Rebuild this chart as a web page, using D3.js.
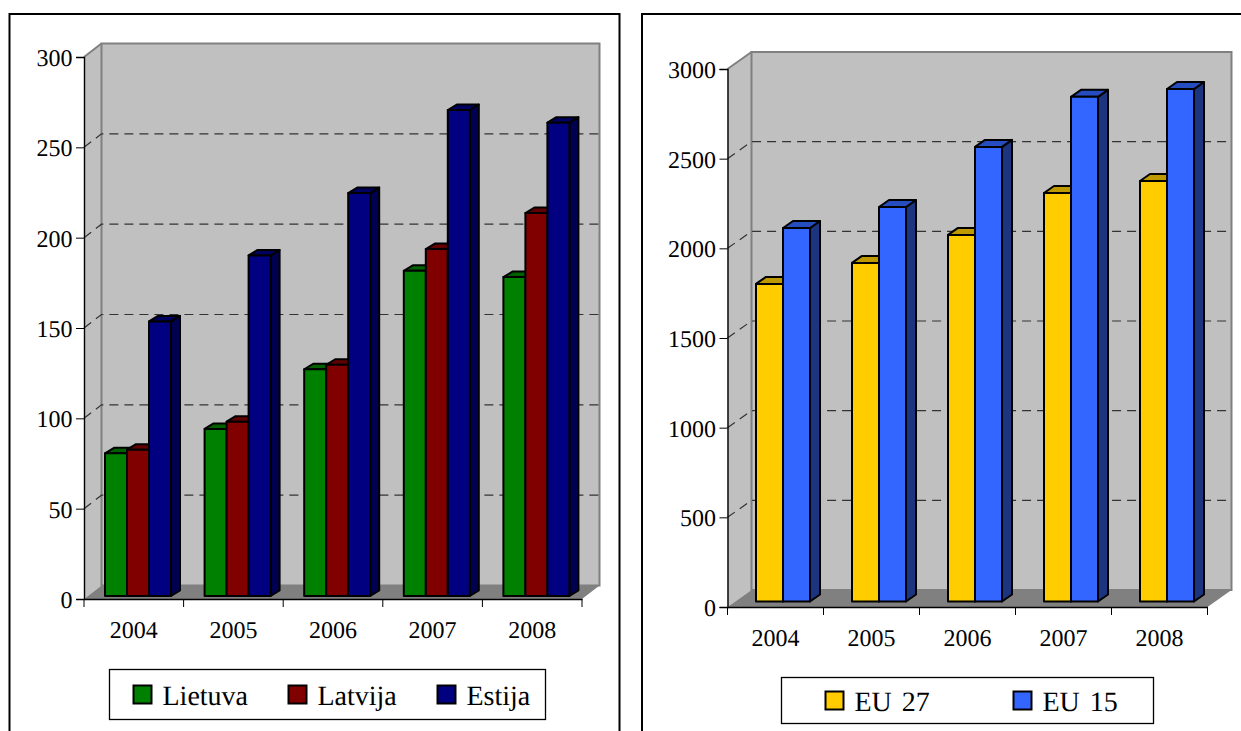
<!DOCTYPE html>
<html>
<head>
<meta charset="utf-8">
<script src="https://cdn.jsdelivr.net/npm/d3@7"></script>
<style>
    body { margin: 0; background: #fff; }
    svg { display: block; text-rendering: geometricPrecision; }
    text { font-family: "Liberation Serif", serif; fill: #000; }
</style>
</head>
<body>
<svg id="chart" width="1241" height="731"></svg>
<script>
const years = ["2004", "2005", "2006", "2007", "2008"];

const balticNames = ["Lietuva", "Latvija", "Estija"];
const lietuva = [79, 92.5, 125.5, 180, 176.5];
const latvija = [81, 96.5, 128, 192, 212];
const estija = [152, 188.5, 223, 269, 262];
const balticTicks = [0, 50, 100, 150, 200, 250, 300];

const euNames = ["EU 27", "EU 15"];
const eu27 = [1771, 1888, 2044, 2278, 2345];
const eu15 = [2083, 2200, 2535, 2814, 2858];
const euTicks = [0, 500, 1000, 1500, 2000, 2500, 3000];

class Bar3DChart {
    constructor(_config, _series) {
        this.config = _config;
        this.series = _series;
        this.initVis();
    }

    initVis() {
        let vis = this;
        let c = vis.config;

        vis.svg = d3.select("#chart");
        vis.chart = vis.svg.append("g");

        vis.xScale = d3.scaleBand().domain(years).range([c.left, c.right]);
        vis.yScale = d3.scaleLinear().domain([0, c.yMax]).range([c.bottom, c.top]);
        vis.barScale = d3.scaleBand()
            .domain(vis.series.map(d => d.name))
            .range([c.barStart, c.barStart + c.barGroup]);

        vis.renderWalls();
        vis.renderBars();
        vis.renderAxes();
        vis.renderLegend();
    }

    renderWalls() {
        let vis = this;
        let c = vis.config;
        let path = pts => "M" + pts.map(p => p.join(",")).join("L") + "Z";
        let yTop = vis.yScale(c.yMax), yBot = vis.yScale(0);

        // panel frame, runs off the bottom of the page
        vis.chart.append("path")
            .attr("d", `M${c.frame[0]},740V14H${c.frame[1]}` + (c.frame[2] ? "V740" : ""))
            .attr("fill", "none").attr("stroke", "#000").attr("stroke-width", 2);

        // side wall
        vis.chart.append("path")
            .attr("d", path([[c.left, yBot], [c.left, yTop], [c.left + c.dx, yTop - c.dy], [c.left + c.dx, yBot - c.dy]]))
            .attr("fill", "#c0c0c0");
        // back wall
        vis.chart.append("rect")
            .attr("x", c.left + c.dx).attr("y", yTop - c.dy)
            .attr("width", c.right - c.left).attr("height", yBot - yTop)
            .attr("fill", "#c0c0c0").attr("stroke", "#808080").attr("stroke-width", 2);
        vis.chart.append("line")
            .attr("x1", c.left).attr("y1", yTop)
            .attr("x2", c.left + c.dx).attr("y2", yTop - c.dy)
            .attr("stroke", "#808080").attr("stroke-width", 2);
        // floor
        vis.chart.append("path")
            .attr("d", path([[c.left, yBot], [c.left + c.dx, yBot - c.dy], [c.right + c.dx, yBot - c.dy], [c.right, yBot]]))
            .attr("fill", "#808080");

        // dashed grid on side wall and back wall
        let grid = c.ticks.filter(d => d > 0 && d < c.yMax);
        vis.chart.selectAll(".grid")
            .data(grid)
            .join("path")
            .attr("class", "grid")
            .attr("d", d => `M${c.left},${vis.yScale(d)}L${c.left + c.dx},${vis.yScale(d) - c.dy}H${c.right + c.dx}`)
            .attr("fill", "none")
            .attr("stroke", "#333")
            .attr("stroke-width", 1.2)
            .attr("stroke-dasharray", "9,6");
    }

    renderBars() {
        let vis = this;
        let c = vis.config;
        let base = vis.yScale(0) - c.barLift;
        let bw = vis.barScale.bandwidth();

        let rows = [];
        years.forEach((year, i) => {
            vis.series.forEach(s => rows.push({ year: year, name: s.name, value: s.values[i], s: s }));
        });

        let bars = vis.chart.selectAll(".bar")
            .data(rows)
            .join("g")
            .attr("class", "bar")
            .attr("stroke", "#000")
            .attr("stroke-width", 2)
            .attr("stroke-linejoin", "round");

        let x0 = d => vis.xScale(d.year) + vis.barScale(d.name);
        let top = d => vis.yScale(d.value) - c.barLift;

        bars.append("path")
            .attr("fill", d => d.s.side)
            .attr("d", d => `M${x0(d) + bw},${base}V${top(d)}l${c.barDx},${-c.barDy}V${base - c.barDy}Z`);
        bars.append("path")
            .attr("fill", d => d.s.lid)
            .attr("d", d => `M${x0(d)},${top(d)}l${c.barDx},${-c.barDy}h${bw}l${-c.barDx},${c.barDy}Z`);
        bars.append("rect")
            .attr("fill", d => d.s.color)
            .attr("x", x0)
            .attr("y", top)
            .attr("width", bw)
            .attr("height", d => base - top(d));
    }

    renderAxes() {
        let vis = this;
        let c = vis.config;

        let yAxis = d3.axisLeft(vis.yScale).tickValues(c.ticks).tickSize(8).tickPadding(3.5).tickFormat(d3.format("d"));
        let yG = vis.chart.append("g")
            .attr("transform", `translate(${c.left},0)`)
            .call(yAxis);
        yG.selectAll("text").attr("font-size", 24).attr("font-family", "Liberation Serif").attr("dy", "0.35em");

        let xAxis = d3.axisBottom(vis.xScale).tickSize(0).tickPadding(27);
        let xG = vis.chart.append("g")
            .attr("transform", `translate(0,${c.bottom})`)
            .call(xAxis);
        xG.selectAll("text").attr("font-size", 24).attr("font-family", "Liberation Serif").attr("dy", "0.5em");

        // tick marks sit between the categories
        let edges = years.map(d => vis.xScale(d)).concat(c.right);
        xG.selectAll(".edge")
            .data(edges)
            .join("line")
            .attr("class", "edge")
            .attr("x1", d => d).attr("x2", d => d)
            .attr("y1", 0).attr("y2", 8)
            .attr("stroke", "#000");

        vis.chart.selectAll(".domain").attr("stroke", "#000").attr("stroke-width", 1.4);
    }

    renderLegend() {
        let vis = this;
        let l = vis.config.legend;

        vis.chart.append("rect")
            .attr("x", l.x).attr("y", l.y)
            .attr("width", l.width).attr("height", l.height)
            .attr("fill", "#fff").attr("stroke", "#000").attr("stroke-width", 1.3);

        let items = vis.chart.selectAll(".legend-item")
            .data(vis.series)
            .join("g")
            .attr("class", "legend-item")
            .attr("transform", (d, i) => `translate(${l.items[i]},${l.y + l.height / 2})`);

        items.append("rect")
            .attr("x", 0).attr("y", -9).attr("width", 18).attr("height", 18)
            .attr("fill", d => d.color)
            .attr("stroke", "#000").attr("stroke-width", 2);

        items.append("text")
            .attr("x", 29).attr("y", 10)
            .attr("font-size", 28)
            .attr("word-spacing", 3)
            .text(d => d.name);
    }
}

new Bar3DChart({
    frame: [9.5, 619.5, true],
    left: 84, right: 582, bottom: 599, top: 57,
    dx: 17.5, dy: 13.5,
    yMax: 300, ticks: balticTicks,
    barStart: 21, barGroup: 66, barDx: 9, barDy: 5.5, barLift: 3,
    legend: { x: 109.5, y: 669.5, width: 436, height: 50, items: [133.5, 288.5, 437.5] }
}, [
    { name: balticNames[0], values: lietuva, color: "#008000", lid: "#006000", side: "#004000" },
    { name: balticNames[1], values: latvija, color: "#800000", lid: "#600000", side: "#400000" },
    { name: balticNames[2], values: estija, color: "#000080", lid: "#000060", side: "#000050" }
]);

new Bar3DChart({
    frame: [642, 1250, false],
    left: 727.5, right: 1207.5, bottom: 607, top: 69,
    dx: 24, dy: 17,
    yMax: 3000, ticks: euTicks,
    barStart: 28.5, barGroup: 54, barDx: 10, barDy: 7, barLift: 5.5,
    legend: { x: 781.5, y: 677.5, width: 372, height: 46, items: [825.5, 1013.5] }
}, [
    { name: euNames[0], values: eu27, color: "#ffcc00", lid: "#bf9900", side: "#806600" },
    { name: euNames[1], values: eu15, color: "#3366ff", lid: "#264dbf", side: "#1c3580" }
]);
</script>
</body>
</html>
